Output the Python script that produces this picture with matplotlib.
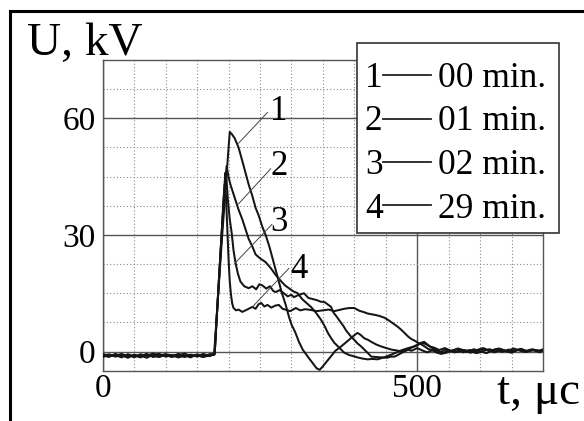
import numpy as np
import matplotlib.pyplot as plt
from matplotlib.lines import Line2D
from matplotlib.patches import Rectangle

plt.rcParams['font.family'] = ['Liberation Serif', 'DejaVu Serif']

# pre-pulse baseline (same time points for all four records)
t_base = [0, 10, 20, 30, 40, 50, 60, 70, 80, 90, 100, 110, 120, 130, 140, 150, 160, 170]
b1 = [-0.9, -1.4, -0.6, -1.2, -0.8, -1.5, -0.7, -1.1, -0.5, -1.3, -0.9, -1.4, -0.6, -1.0, -1.5, -0.7, -1.2, -0.8]
b2 = [-1.2, -0.7, -1.3, -0.9, -1.6, -0.8, -1.2, -0.6, -1.4, -1.0, -0.7, -1.3, -1.1, -0.5, -1.2, -0.9, -1.4, -1.0]
b3 = [-0.6, -1.1, -0.9, -1.5, -0.7, -1.2, -1.0, -1.6, -0.8, -0.6, -1.3, -0.9, -1.5, -1.1, -0.8, -1.3, -0.6, -1.2]
b4 = [-1.4, -0.9, -1.1, -0.6, -1.3, -1.0, -1.5, -0.8, -1.1, -1.4, -0.7, -1.0, -0.8, -1.4, -0.9, -1.1, -1.3, -0.7]

# 00 min
t1 = [177, 180, 185, 190, 195, 199, 202, 206, 210, 216, 222, 227, 232, 238, 243, 248, 254, 259,
      265, 270, 275, 280, 285, 291, 296, 300, 306, 312, 318, 326, 334, 340, 345, 350, 356, 363,
      370, 379, 387, 395, 400, 405, 410, 416, 422, 427, 435, 443, 451, 459, 467, 475, 483, 491,
      500, 508, 516, 525, 535, 545, 555, 565, 575, 585, 595, 605, 615, 625, 635, 645, 655, 665,
      675, 685, 695, 700]
u1 = [-0.9, 6, 18, 30, 41, 50, 56.5, 55.8, 54.8, 52.5, 49, 46, 43, 40, 37, 35, 32, 30,
      27, 24, 21, 18, 15, 12, 9, 7, 5, 2.5, 0.5, -1.3, -3, -4.3, -4.7, -3.8, -2.6, -1.2,
      0.2, 1.3, 2.4, 3.5, 4.2, 4.8, 4.3, 3.4, 3.0, 2.5, 1.8, 1.3, 0.9, 0.5, 0.3, 0.0, 0.6, 0.2,
      0.9, 0.3, -0.2, 0.4, -0.3, 0.5, 0.1, 0.8, 0.2, -0.3, 0.4, 0.9, 0.2, 0.6, -0.1, 0.5, 0.2, 0.7,
      0.1, 0.4, 0.2, 0.6]

# 01 min
t2 = [178, 181, 185, 189, 193, 197, 200, 203, 207, 211, 216, 222, 227, 232, 238, 243, 250, 259,
      267, 275, 283, 290, 296, 303, 310, 317, 324, 331, 339, 347, 353, 358, 363, 368, 376, 384,
      392, 399, 405, 413, 421, 429, 437, 445, 452, 459, 466, 473, 480, 488, 495, 503, 511, 518,
      525, 533, 541, 550, 560, 570, 580, 590, 600, 610, 620, 630, 640, 650, 660, 670, 680, 690, 700]
u2 = [-0.4, 8, 19, 30, 40, 47.7, 45, 43, 41, 39, 36.5, 34, 31.5, 29, 27, 25, 24, 23,
      21.5, 19.7, 18.2, 17, 16.3, 15.5, 15, 13.5, 12.5, 11.5, 10, 8.2, 6.5, 4.8, 3.5, 2.3, 1.0, -0.3,
      -0.9, -1.2, -1.5, -1.8, -2.0, -1.9, -2.0, -1.6, -1.2, -0.8, -0.3, 0.2, 0.6, 1.0, 1.3, 2.0, 2.5, 1.6,
      0.8, 0.2, -0.4, 0.3, -0.2, 0.5, -0.1, 0.6, 0.1, -0.4, 0.3, 0.8, 0.2, -0.3, 0.4, 0.0, 0.5, 0.1, 0.3]

# 02 min
t3 = [178, 181, 185, 189, 192, 195, 197, 199, 202, 205, 208, 211, 215, 219, 225, 232, 238, 244,
      249, 254, 260, 266, 271, 275, 281, 288, 294, 300, 304, 312, 320, 327, 334, 341, 347, 352,
      358, 363, 367, 371, 375, 379, 383, 387, 391, 395, 400, 405, 411, 416, 421, 427, 435, 443,
      452, 458, 464, 470, 478, 486, 493, 500, 507, 514, 520, 527, 535, 544, 553, 563, 573, 583,
      593, 603, 613, 623, 633, 643, 653, 663, 673, 683, 693, 700]
u3 = [-0.6, 8, 19, 30, 39, 46, 44, 39, 34, 30.6, 26, 23, 20, 18, 16.8, 16.3, 16.8, 16,
      17.3, 17, 16.2, 16.8, 15.6, 15.3, 15.8, 15, 14.2, 14.6, 14, 14.6, 15, 13.8, 13.5, 13.2, 12.8, 12.8,
      12.1, 11.5, 10, 9.2, 8.3, 7.4, 6.5, 5.4, 4.6, 3.8, 3.0, 2.1, 1.3, 0.5, -0.3, -1.3, -1.4, -1.5,
      -1.6, -1.3, -1.3, -0.8, -0.1, 0.5, 1.2, 1.6, 2.3, 1.9, 1.3, 1.0, 0.4, 0.9, 0.2, 0.6, -0.2, 0.4,
      0.0, 0.7, 0.3, -0.2, 0.5, 0.1, 0.8, 0.3, -0.1, 0.6, 0.2, 0.4]

# 29 min
t4 = [178, 181, 185, 189, 192, 194, 196, 198, 200, 202, 204, 206, 208, 212, 216, 222, 227, 232,
      238, 243, 248, 252, 257, 262, 268, 274, 280, 286, 292, 298, 307, 314, 322, 331, 340, 350,
      359, 368, 376, 384, 392, 400, 408, 416, 421, 427, 434, 441, 448, 455, 462, 469, 476, 481,
      486, 491, 496, 501, 507, 513, 518, 522, 530, 538, 546, 555, 565, 575, 585, 595, 605, 615,
      625, 635, 645, 655, 665, 675, 685, 695, 700]
u4 = [-0.7, 8, 19, 30, 38, 43, 40, 32, 24, 18, 14.5, 12.3, 11.2, 10.6, 10.8, 10.2, 10.6, 11.0,
      11.5, 11.0, 12.2, 12.5, 11.6, 12.0, 11.3, 11.8, 12.0, 11.0, 10.7, 10.4, 11.2, 10.6, 10.9, 10.7, 10.4, 10.6,
      10.8, 10.4, 10.7, 11.0, 11.2, 11.2, 10.5, 10.1, 9.8, 9.6, 9.4, 9.1, 8.7, 8.0, 7.2, 6.4, 5.4, 4.6,
      3.8, 3.2, 2.8, 2.3, 1.8, 1.2, 0.6, 0.5, -0.2, -0.6, -0.3, 0.2, -0.1, 0.4, 0.0, -0.4, 0.2, 0.6,
      0.0, 0.5, -0.1, 0.3, 0.6, 0.0, 0.4, -0.2, 0.3]

legend_nums = ['1', '2', '3', '4']
legend_times = ['00 min.', '01 min.', '02 min.', '29 min.']

# label text position and leader start point (t, U) for each curve
lab_pos = [(280, 61.8), (280, 47.7), (280, 33.2), (312, 21.0)]
lead_from = [(216, 53.6), (216, 38.0), (210, 22.7), (238, 11.5)]
lead_to = [(262, 61.5), (267, 47.0), (269, 32.7), (296, 21.4)]

W, H = 584, 421
fig = plt.figure(figsize=(W / 100, H / 100), dpi=100)
ax = fig.add_axes([102.7 / W, 1 - 371 / H, (543 - 102.7) / W, (371 - 60) / H])

curves = [(t1, u1, b1), (t2, u2, b2), (t3, u3, b3), (t4, u4, b4)]
for t, u, b in curves:
    ax.plot(t_base + t, b + u, color='#151515', lw=1.45, zorder=3)

ax.set_xlim(0, 700)
ax.set_ylim(-5, 75)
ax.set_xticks([0, 500])
ax.set_yticks([0, 30, 60])
ax.set_xticks([50, 100, 150, 200, 250, 300, 350, 400, 450, 550, 600, 650], minor=True)
ax.set_yticks([7.5, 15, 22.5, 37.5, 45, 52.5, 67.5], minor=True)
ax.grid(which='minor', ls=(0, (1, 2)), color='#8a8a8a', lw=0.8)
ax.grid(which='major', ls='-', color='#555555', lw=1.0)
ax.tick_params(which='both', length=0, labelsize=24)
ax.tick_params(axis='x', pad=2)
ax.tick_params(axis='y', pad=5)
for s in ax.spines.values():
    s.set_color('#555555')
    s.set_linewidth(1.0)

for i in range(4):
    ax.plot([lead_from[i][0], lead_to[i][0]], [lead_from[i][1], lead_to[i][1]],
            color='#444444', lw=0.7, zorder=4)
    ax.text(lab_pos[i][0], lab_pos[i][1], legend_nums[i], fontsize=25,
            ha='center', va='center', zorder=4)


def fx(x):
    return x / W


def fy(y):
    return 1 - y / H


fig.text(fx(27), fy(55), 'U, kV', fontsize=34, va='baseline', ha='left')
fig.text(fx(580), fy(404), 't, \u03bcc', fontsize=34, va='baseline', ha='right')

# legend box
fig.add_artist(Rectangle((fx(357), fy(233)), fx(559) - fx(357), fy(43) - fy(233),
                         transform=fig.transFigure, facecolor='white',
                         edgecolor='#333333', lw=1.2, zorder=5))
baselines = [87, 130.5, 174, 217.5]
for i in range(4):
    yb = baselines[i]
    fig.text(fx(365), fy(yb), legend_nums[i], fontsize=25.5, va='baseline', ha='left', zorder=6)
    fig.add_artist(Line2D([fx(383), fx(431)], [fy(yb - 12), fy(yb - 12)],
                          transform=fig.transFigure, color='#222222', lw=1.3, zorder=6))
    fig.text(fx(438), fy(yb), legend_times[i], fontsize=25.5, va='baseline', ha='left', zorder=6)

# outer frame (top and left edges)
fig.add_artist(Line2D([fx(9.5), fx(9.5)], [0, fy(10.5)], transform=fig.transFigure,
                      color='black', lw=2.2, solid_capstyle='projecting'))
fig.add_artist(Line2D([fx(9.5), 1], [fy(10.5), fy(10.5)], transform=fig.transFigure,
                      color='black', lw=2.2, solid_capstyle='projecting'))

fig.savefig('out.png', dpi=100)
